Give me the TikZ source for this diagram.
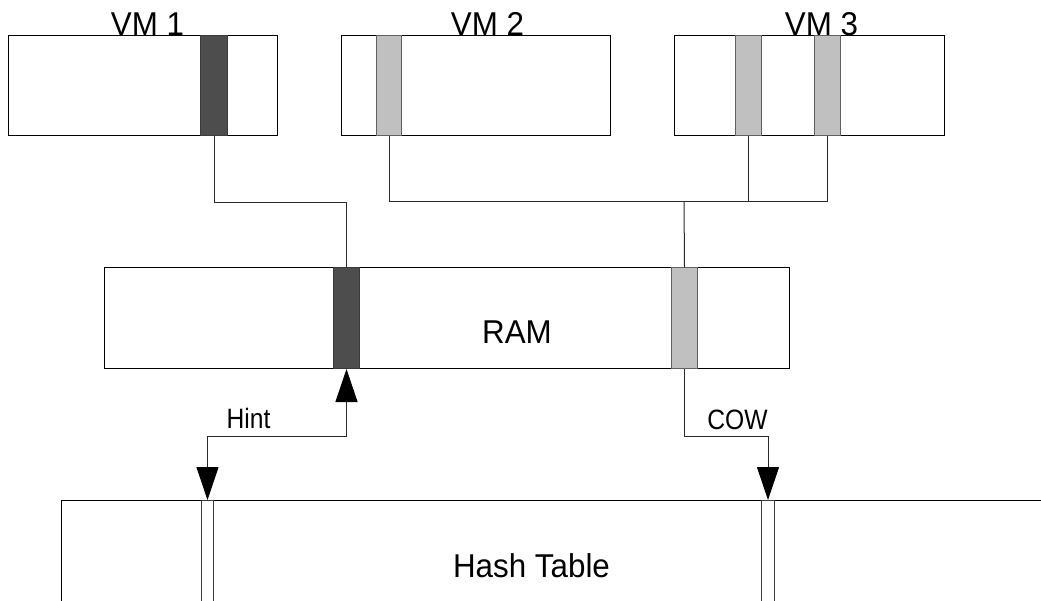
\documentclass[tikz,border=0pt]{standalone}
\usepackage{fontspec}
\setmainfont{Liberation Sans}
\newfontfamily\widelabelfont[FakeStretch=0.95]{Liberation Sans}
\newfontfamily\narrowlabelfont[FakeStretch=0.88]{Liberation Sans}
\usetikzlibrary{arrows.meta}
\definecolor{hotfill}{HTML}{4D4D4D}
\definecolor{sharedfill}{HTML}{C0C0C0}
\definecolor{edgegray}{HTML}{3A3A3A}
\definecolor{wiregray}{HTML}{2A2A2A}
\newcommand\biglabel{\widelabelfont\fontsize{33}{40}\selectfont}
\newcommand\smalllabel{\narrowlabelfont\fontsize{28}{34}\selectfont}
\begin{document}
\begin{tikzpicture}[x=1pt, y=-1pt,
  memblock/.style 2 args={draw=black, fill=white, line width=1pt, inner sep=0pt,
    anchor=north west, minimum width=#1, minimum height=#2},
  hotpage/.style={draw=edgegray, fill=hotfill, line width=1pt, inner sep=0pt,
    anchor=north west, minimum width=#1},
  sharedpage/.style={draw=edgegray!80, fill=sharedfill, line width=1pt, inner sep=0pt,
    anchor=north west, minimum width=#1},
  slotbox/.style={draw=edgegray, fill=white, line width=1pt, inner sep=0pt,
    anchor=north west, minimum width=12pt, minimum height=150pt},
  wire/.style={draw=wiregray, line width=1pt},
  tiphead/.tip={Triangle[length=33pt, width=22pt, color=black]},
  tipped/.style={wire, arrows={-tiphead}},
  bothtipped/.style={wire, arrows={tiphead-tiphead}},
  biglbl/.style={anchor=base, inner sep=0pt, font=\biglabel},
  smalllbl/.style={anchor=base, inner sep=0pt, font=\smalllabel}]

\useasboundingbox (0,0) rectangle (1041,600);
\clip (0,0) rectangle (1041,600);

% virtual machines
\node[memblock={269pt}{100pt}] (vm1) at (8,35) {};
\node[memblock={269pt}{100pt}] (vm2) at (341,35) {};
\node[memblock={270pt}{100pt}] (vm3) at (674,35) {};

\node[hotpage=27pt, minimum height=100pt] (vm1p) at (200,35) {};
\node[sharedpage=25pt, minimum height=100pt] (vm2p) at (376,35) {};
\node[sharedpage=26pt, minimum height=100pt] (vm3p) at (735,35) {};
\node[sharedpage=26pt, minimum height=100pt] (vm3q) at (814,35) {};

\node[biglbl] (vm1lbl) at (147.5,35) {VM 1};
\node[biglbl] (vm2lbl) at (487.5,35) {VM 2};
\node[biglbl] (vm3lbl) at (821.5,35) {VM 3};

% physical memory
\node[memblock={685pt}{101pt}] (ram) at (104,267) {};
\node[hotpage=26pt, minimum height=101pt] (rhot) at (333,267) {};
\node[sharedpage=26pt, minimum height=101pt] (rshared) at (671,267) {};
\node[biglbl] (ramlbl) at (517,343) {RAM};

% hash table (runs past the right and bottom edges)
\node[memblock={1100pt}{200pt}] (hash) at (61,500) {};
\node[slotbox] (hs1) at (201,500) {};
\node[slotbox, minimum width=13pt] (hs2) at (761,500) {};
\node[biglbl] (hashlbl) at (531.5,577) {Hash Table};

% mappings from guest pages to RAM
\coordinate (bus) at (684,201);
\draw[wire] (vm1p.south) -- ++(0,66) -| (rhot.north);
\draw[wire] (vm2p.south) -- (vm2p.south |- bus) -- (vm3q.south |- bus) -- (vm3q.south);
\draw[wire] (vm3p.south) -- (vm3p.south |- bus);
\draw[wire] (bus) -- (rshared.north);

% hash table lookups
\draw[bothtipped] (rhot.south) -- ++(0,67) -| (hs1.north);
\draw[tipped] (rshared.south) -- ++(0,67) -| (hs2.north);
\node[smalllbl] (hintlbl) at (248.5,428) {Hint};
\node[smalllbl] (cowlbl) at (737.5,429) {COW};
\end{tikzpicture}
\end{document}
